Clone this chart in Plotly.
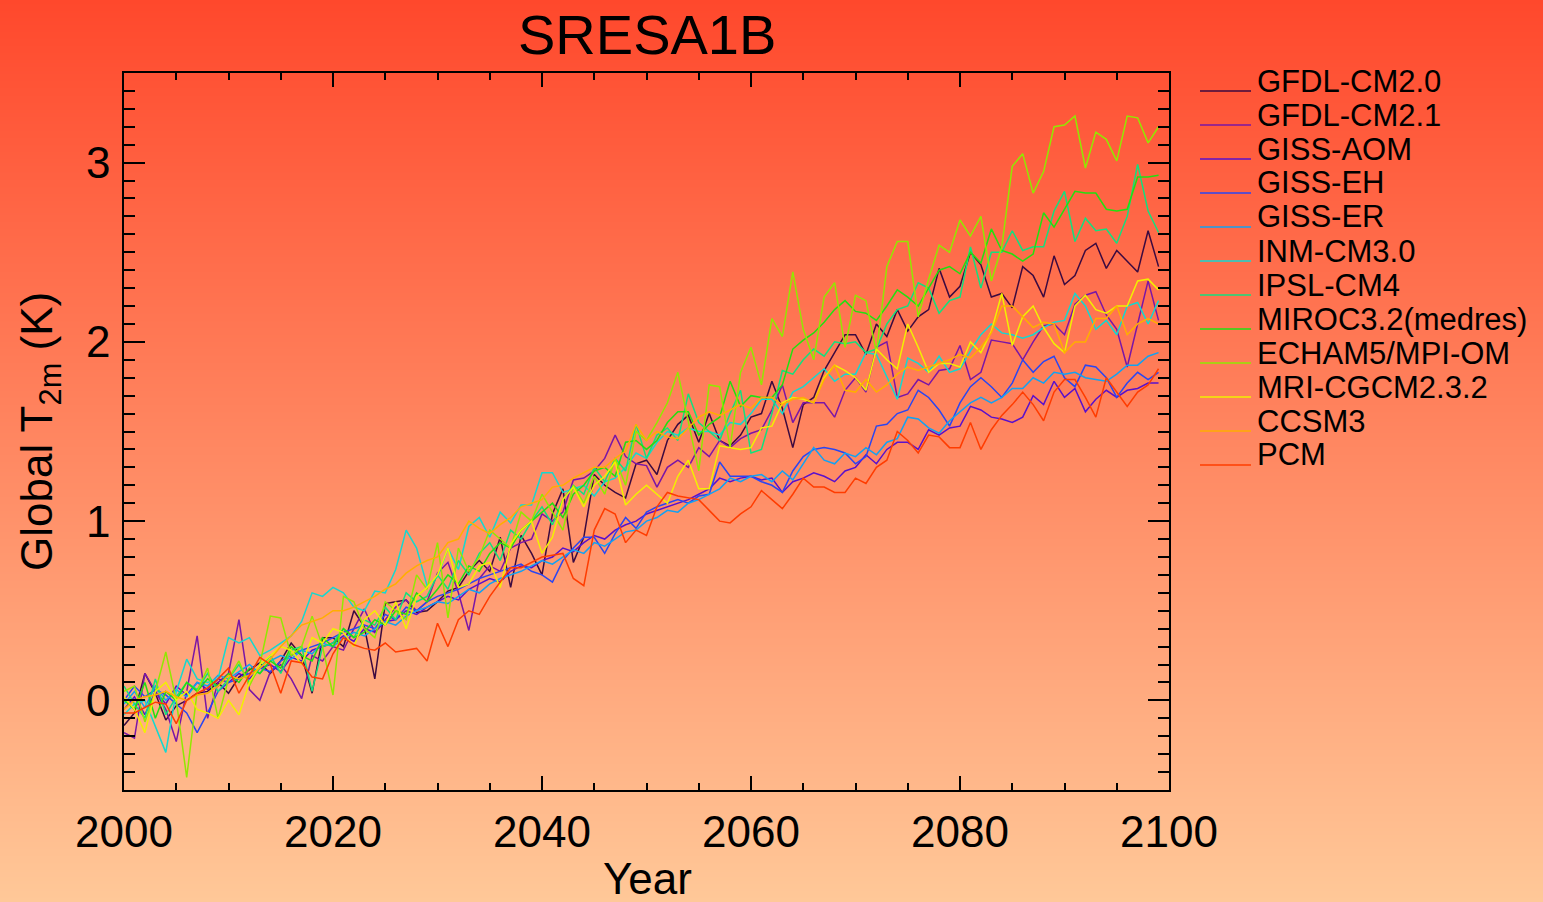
import base64
import struct
import zlib

import plotly.graph_objects as go

# ---------------------------------------------------------------------------
# Global mean 2 m temperature change (K), SRES A1B, annual values 2000-2099
# ---------------------------------------------------------------------------
years = list(range(2000, 2100))

models = [
    "GFDL-CM2.0", "GFDL-CM2.1", "GISS-AOM", "GISS-EH", "GISS-ER", "INM-CM3.0",
    "IPSL-CM4", "MIROC3.2(medres)", "ECHAM5/MPI-OM", "MRI-CGCM2.3.2", "CCSM3", "PCM",
]

gfdl_cm20 = [
    -0.14, -0.07, 0.15, 0.04, -0.11, -0.03, 0.00, 0.04, 0.05, 0.10,
    0.04, 0.13, 0.17, 0.21, 0.15, 0.22, 0.32, 0.25, 0.04, 0.35,
    0.35, 0.30, 0.50, 0.41, 0.12, 0.54, 0.55, 0.56, 0.49, 0.50,
    0.55, 0.61, 0.63, 0.72, 0.78, 0.72, 0.91, 0.63, 0.92, 0.82,
    0.70, 1.04, 1.18, 0.77, 0.91, 1.26, 1.20, 1.16, 1.13, 1.32,
    1.34, 1.26, 1.45, 1.54, 1.59, 1.44, 1.60, 1.45, 1.42, 1.48,
    1.58, 1.60, 1.78, 1.63, 1.41, 1.65, 1.69, 1.84, 1.94, 2.04,
    2.04, 1.93, 2.10, 2.03, 2.18, 2.06, 2.14, 2.18, 2.41, 2.25,
    2.31, 2.50, 2.43, 2.25, 2.27, 2.19, 2.42, 2.37, 2.25, 2.48,
    2.32, 2.37, 2.51, 2.55, 2.41, 2.51, 2.45, 2.39, 2.62, 2.42,
]
gfdl_cm21 = [
    -0.18, -0.21, 0.15, 0.05, -0.05, -0.23, 0.05, 0.36, -0.10, 0.10,
    0.15, 0.45, 0.06, 0.00, 0.16, 0.20, 0.12, 0.01, 0.25, 0.22,
    0.30, 0.28, 0.40, 0.51, 0.38, 0.45, 0.52, 0.56, 0.50, 0.55,
    0.71, 0.77, 0.60, 0.39, 0.68, 0.75, 0.72, 0.85, 0.88, 0.90,
    1.04, 1.00, 1.05, 1.23, 1.24, 1.28, 1.35, 1.48, 1.36, 1.32,
    1.31, 1.19, 1.30, 1.34, 1.30, 1.41, 1.36, 1.45, 1.41, 1.46,
    1.49, 1.51, 1.62, 1.76, 1.55, 1.66, 1.66, 1.66, 1.58, 1.73,
    1.80, 1.72, 1.97, 2.00, 1.69, 1.71, 1.79, 1.76, 1.84, 1.85,
    1.98, 1.79, 1.83, 2.01, 2.00, 1.99, 1.90, 2.00, 2.09, 2.10,
    2.04, 2.21, 2.26, 2.28, 2.15, 2.07, 1.86, 2.10, 2.34, 2.12,
]
giss_aom = [
    -0.05, 0.02, -0.08, 0.05, -0.02, 0.08, 0.03, 0.10, 0.06, 0.12,
    0.10, 0.15, 0.12, 0.18, 0.20, 0.16, 0.24, 0.22, 0.28, 0.30,
    0.32, 0.36, 0.33, 0.40, 0.38, 0.44, 0.45, 0.50, 0.48, 0.52,
    0.55, 0.58, 0.56, 0.62, 0.65, 0.68, 0.66, 0.72, 0.75, 0.74,
    0.78, 0.80, 0.85, 0.83, 0.88, 0.92, 0.90, 0.95, 0.98, 1.00,
    1.04, 1.06, 1.08, 1.10, 1.12, 1.15, 1.18, 1.24, 1.22, 1.24,
    1.25, 1.23, 1.24, 1.16, 1.22, 1.24, 1.27, 1.25, 1.22, 1.28,
    1.30, 1.37, 1.32, 1.40, 1.44, 1.44, 1.40, 1.51, 1.48, 1.52,
    1.53, 1.64, 1.62, 1.58, 1.57, 1.55, 1.58, 1.70, 1.65, 1.78,
    1.69, 1.74, 1.61, 1.68, 1.73, 1.69, 1.73, 1.74, 1.77, 1.77,
]
giss_eh = [
    0.00, 0.08, 0.02, 0.06, 0.03, -0.02, -0.07, -0.18, -0.07, 0.05,
    0.10, 0.12, 0.15, 0.18, 0.16, 0.22, 0.25, 0.28, 0.30, 0.32,
    0.35, 0.38, 0.40, 0.42, 0.40, 0.48, 0.45, 0.52, 0.50, 0.55,
    0.58, 0.60, 0.62, 0.65, 0.68, 0.70, 0.72, 0.74, 0.76, 0.72,
    0.70, 0.66, 0.78, 0.85, 0.91, 0.91, 0.82, 0.93, 1.02, 0.96,
    1.05, 1.08, 1.10, 1.12, 1.10, 1.14, 1.15, 1.33, 1.25, 1.25,
    1.25, 1.22, 1.20, 1.16, 1.28, 1.36, 1.40, 1.41, 1.40, 1.38,
    1.32, 1.36, 1.53, 1.54, 1.60, 1.62, 1.73, 1.69, 1.62, 1.53,
    1.66, 1.75, 1.80, 1.75, 1.69, 1.77, 1.90, 1.83, 1.89, 1.92,
    1.80, 1.75, 1.87, 1.86, 1.80, 1.69, 1.77, 1.83, 1.79, 1.83,
]
giss_er = [
    -0.02, 0.05, -0.04, 0.08, 0.00, 0.06, 0.02, 0.10, 0.08, 0.14,
    0.12, 0.16, 0.20, 0.15, 0.22, 0.25, 0.23, 0.28, 0.26, 0.32,
    0.30, 0.35, 0.38, 0.36, 0.40, 0.44, 0.42, 0.47, 0.50, 0.52,
    0.55, 0.54, 0.58, 0.62, 0.60, 0.65, 0.68, 0.70, 0.72, 0.75,
    0.78, 0.76, 0.80, 0.84, 0.82, 0.88, 0.86, 0.90, 0.94, 0.95,
    1.00, 1.02, 1.06, 1.05, 1.10, 1.12, 1.15, 1.18, 1.24, 1.22,
    1.25, 1.26, 1.22, 1.28, 1.23, 1.32, 1.41, 1.34, 1.32, 1.38,
    1.36, 1.41, 1.37, 1.44, 1.46, 1.58, 1.57, 1.52, 1.49, 1.56,
    1.61, 1.66, 1.69, 1.66, 1.69, 1.74, 1.74, 1.80, 1.77, 1.83,
    1.82, 1.83, 1.80, 1.79, 1.78, 1.82, 1.87, 1.87, 1.92, 1.94,
]
inm_cm30 = [
    -0.08, -0.02, 0.00, -0.15, -0.29, 0.05, 0.23, 0.12, 0.10, 0.12,
    0.35, 0.32, 0.35, 0.25, 0.28, 0.32, 0.36, 0.44, 0.60, 0.58,
    0.63, 0.60, 0.52, 0.50, 0.61, 0.60, 0.73, 0.95, 0.85, 0.64,
    0.69, 0.85, 0.73, 0.97, 1.02, 0.91, 1.05, 0.99, 1.09, 1.09,
    1.27, 1.27, 1.16, 1.18, 1.20, 1.14, 1.22, 1.24, 1.30, 1.38,
    1.35, 1.44, 1.50, 1.48, 1.52, 1.50, 1.50, 1.48, 1.55, 1.54,
    1.60, 1.68, 1.68, 1.60, 1.72, 1.75, 1.80, 1.85, 1.78, 1.82,
    1.82, 1.94, 1.93, 1.80, 1.68, 1.91, 1.88, 1.83, 1.92, 1.83,
    1.85, 1.95, 2.04, 2.10, 2.05, 2.04, 2.02, 2.04, 2.08, 2.11,
    2.12, 2.27, 2.20, 2.07, 2.12, 2.04, 2.20, 2.22, 2.10, 2.23,
]
ipsl_cm4 = [
    0.08, -0.02, -0.10, 0.12, -0.08, 0.02, 0.10, 0.06, 0.15, 0.05,
    0.12, 0.20, 0.10, 0.18, 0.25, 0.15, 0.28, 0.30, 0.05, 0.30,
    0.32, 0.40, 0.35, 0.45, 0.42, 0.52, 0.45, 0.60, 0.55, 0.58,
    0.70, 0.62, 0.78, 0.70, 0.82, 0.88, 0.78, 0.95, 0.90, 1.00,
    1.08, 0.98, 1.12, 1.20, 1.15, 1.30, 1.22, 1.35, 1.28, 1.54,
    1.35, 1.48, 1.52, 1.45, 1.71, 1.55, 1.50, 1.45, 1.60, 1.73,
    1.38, 1.40, 1.60, 1.84, 1.82, 1.90, 1.96, 1.92, 2.00, 1.99,
    2.00, 1.94, 1.96, 2.10, 2.18, 2.20, 2.33, 2.30, 2.16, 2.23,
    2.25, 2.53, 2.30, 2.50, 2.50, 2.62, 2.51, 2.53, 2.53, 2.73,
    2.84, 2.56, 2.69, 2.62, 2.63, 2.55, 2.70, 2.99, 2.73, 2.61,
]
miroc32 = [
    0.00, -0.05, 0.10, -0.10, 0.05, 0.00, 0.10, 0.05, 0.12, 0.08,
    0.15, 0.10, 0.18, 0.15, 0.22, 0.18, 0.30, 0.25, 0.22, 0.35,
    0.30, 0.40, 0.35, 0.38, 0.45, 0.42, 0.50, 0.48, 0.60, 0.55,
    0.62, 0.70, 0.65, 0.75, 0.72, 0.82, 0.88, 0.85, 0.95, 1.00,
    1.05, 1.10, 1.02, 1.15, 1.20, 1.28, 1.30, 1.25, 1.44, 1.45,
    1.40, 1.45, 1.55, 1.61, 1.61, 1.48, 1.54, 1.58, 1.78, 1.64,
    1.70, 1.69, 1.69, 1.76, 1.96, 2.01, 2.05, 2.11, 2.18, 2.23,
    2.17, 2.16, 2.12, 2.20, 2.29, 2.25, 2.20, 2.30, 2.40, 2.42,
    2.38, 2.50, 2.44, 2.63, 2.51, 2.49, 2.45, 2.49, 2.72, 2.64,
    2.74, 2.84, 2.83, 2.83, 2.74, 2.73, 2.74, 2.92, 2.92, 2.93,
]
echam5 = [
    0.05, 0.08, -0.12, 0.05, 0.27, 0.00, -0.43, 0.05, 0.18, -0.10,
    0.12, 0.22, 0.08, 0.20, 0.47, 0.46, 0.25, 0.30, 0.47, 0.30,
    0.03, 0.58, 0.55, 0.40, 0.35, 0.55, 0.50, 0.45, 0.70, 0.62,
    0.88, 0.46, 0.85, 0.72, 0.80, 0.95, 0.90, 0.85, 1.05, 1.00,
    1.15, 1.05, 0.95, 1.20, 1.10, 1.25, 1.15, 1.35, 1.20, 1.50,
    1.45, 1.55, 1.66, 1.83, 1.55, 1.28, 1.76, 1.75, 1.41, 1.83,
    1.97, 1.76, 2.13, 2.03, 2.39, 2.07, 1.90, 2.25, 2.33, 1.97,
    2.26, 2.23, 1.94, 2.42, 2.56, 2.56, 2.14, 2.35, 2.54, 2.50,
    2.68, 2.59, 2.70, 2.34, 2.53, 2.98, 3.05, 2.83, 2.95, 3.20,
    3.21, 3.26, 2.97, 3.17, 3.13, 3.01, 3.26, 3.25, 3.11, 3.20,
]
mri_cgcm = [
    0.02, -0.05, -0.18, 0.05, 0.10, 0.00, 0.05, -0.05, -0.07, -0.10,
    0.00, -0.08, 0.10, 0.20, 0.25, 0.30, 0.28, 0.20, 0.35, 0.32,
    0.40, 0.38, 0.30, 0.45, 0.50, 0.42, 0.55, 0.40, 0.58, 0.63,
    0.70, 0.85, 0.63, 0.65, 0.75, 0.77, 0.63, 0.87, 0.95, 1.00,
    0.82, 0.91, 1.12, 1.19, 1.08, 1.20, 1.25, 1.33, 1.09, 1.15,
    1.20, 1.15, 1.10, 1.25, 1.34, 1.18, 1.18, 1.42, 1.41, 1.40,
    1.41, 1.52, 1.53, 1.66, 1.69, 1.68, 1.66, 1.80, 1.87, 1.84,
    1.80, 1.73, 1.96, 1.90, 1.85, 2.10, 1.97, 1.83, 1.88, 1.88,
    1.86, 2.00, 1.94, 2.06, 2.27, 1.98, 2.14, 2.20, 2.08, 1.99,
    1.94, 2.20, 2.26, 2.18, 2.16, 2.20, 2.20, 2.34, 2.35, 2.29,
]
ccsm3 = [
    -0.05, 0.00, 0.02, 0.03, 0.05, 0.02, 0.00, 0.03, 0.04, 0.08,
    0.14, 0.12, 0.14, 0.18, 0.23, 0.30, 0.36, 0.42, 0.44, 0.46,
    0.50, 0.50, 0.52, 0.55, 0.58, 0.62, 0.65, 0.71, 0.75, 0.78,
    0.80, 0.88, 0.90, 1.00, 0.96, 0.93, 0.98, 1.02, 1.08, 1.10,
    1.12, 1.19, 1.20, 1.24, 1.27, 1.30, 1.30, 1.35, 1.39, 1.54,
    1.45, 1.50, 1.47, 1.46, 1.52, 1.58, 1.61, 1.59, 1.62, 1.65,
    1.63, 1.69, 1.69, 1.65, 1.68, 1.69, 1.66, 1.79, 1.87, 1.73,
    1.72, 1.79, 1.72, 1.76, 1.82, 1.86, 1.84, 1.86, 1.88, 1.90,
    1.93, 1.91, 1.97, 2.05, 2.20, 2.20, 2.14, 2.08, 2.11, 2.10,
    1.94, 2.00, 2.00, 2.13, 2.13, 2.20, 2.04, 2.10, 2.13, 2.10,
]
pcm = [
    -0.07, -0.07, -0.04, -0.01, -0.02, -0.13, 0.00, 0.04, 0.07, 0.12,
    0.18, 0.04, 0.14, 0.24, 0.20, 0.04, 0.22, 0.21, 0.13, 0.12,
    0.26, 0.35, 0.31, 0.29, 0.28, 0.32, 0.27, 0.28, 0.29, 0.22,
    0.43, 0.30, 0.45, 0.50, 0.48, 0.58, 0.66, 0.74, 0.74, 0.77,
    0.80, 0.81, 0.82, 0.68, 0.64, 0.95, 1.07, 1.04, 0.88, 0.95,
    0.92, 1.08, 1.16, 1.14, 1.13, 1.12, 1.06, 1.00, 0.99, 1.04,
    1.08, 1.17, 1.12, 1.07, 1.15, 1.24, 1.19, 1.19, 1.16, 1.16,
    1.24, 1.21, 1.30, 1.34, 1.50, 1.45, 1.38, 1.48, 1.47, 1.41,
    1.41, 1.55, 1.40, 1.51, 1.59, 1.65, 1.72, 1.65, 1.56, 1.72,
    1.79, 1.79, 1.69, 1.58, 1.80, 1.72, 1.64, 1.72, 1.76, 1.85,
]

series = [gfdl_cm20, gfdl_cm21, giss_aom, giss_eh, giss_er, inm_cm30,
          ipsl_cm4, miroc32, echam5, mri_cgcm, ccsm3, pcm]

# rainbow colour table, one colour per model
colors = [
    "#3c0a40", "#7a16a6", "#5a10cc", "#2a46f2", "#12a2f2", "#14d8d0",
    "#12e07e", "#22e010", "#92e800", "#f2f000", "#ffae00", "#ff3c00",
]

for s in series:
    assert len(s) == len(years)

# ---------------------------------------------------------------------------
# page geometry (pixels)
# ---------------------------------------------------------------------------
W, H = 1543, 902
L, R, T, B = 124, 1169, 73, 790          # plot-area edges
PW, PH = R - L, B - T
FONT = "Liberation Sans, Arial, Helvetica, sans-serif"


def px(x):
    return (x - L) / PW


def py(y):
    return (B - y) / PH


def gradient_png(height, top, bottom):
    """1-pixel-wide vertical colour ramp as a PNG data URI."""
    raw = bytearray()
    for i in range(height):
        t = i / (height - 1)
        raw += b"\x00" + bytes(round(top[k] + (bottom[k] - top[k]) * t) for k in range(3))

    def chunk(tag, data):
        body = tag + data
        return struct.pack(">I", len(data)) + body + struct.pack(">I", zlib.crc32(body) & 0xFFFFFFFF)

    ihdr = struct.pack(">IIBBBBB", 1, height, 8, 2, 0, 0, 0)
    png = (b"\x89PNG\r\n\x1a\n" + chunk(b"IHDR", ihdr)
           + chunk(b"IDAT", zlib.compress(bytes(raw))) + chunk(b"IEND", b""))
    return "data:image/png;base64," + base64.b64encode(png).decode()


fig = go.Figure()

for name, vals, col in zip(models, series, colors):
    fig.add_trace(go.Scatter(
        x=years, y=vals, name=name, mode="lines",
        line=dict(color=col, width=1.5), showlegend=False,
    ))

# hand-placed legend: short line followed by the model name
shapes = []
annotations = []
for i, (name, col) in enumerate(zip(models, colors)):
    yl = 91 + 34 * i
    shapes.append(dict(type="line", xref="paper", yref="paper",
                       x0=px(1200), x1=px(1251), y0=py(yl), y1=py(yl),
                       line=dict(color=col, width=1.5)))
    annotations.append(dict(xref="paper", yref="paper", x=px(1255), y=py(yl - 10),
                            text=name, showarrow=False, xanchor="left", yanchor="middle",
                            font=dict(family=FONT, size=31, color="black")))

annotations += [
    dict(xref="paper", yref="paper", x=px(647), y=py(35), text="SRESA1B",
         showarrow=False, xanchor="center", yanchor="middle",
         font=dict(family=FONT, size=56, color="black")),
    dict(xref="paper", yref="paper", x=px(647), y=py(878), text="Year",
         showarrow=False, xanchor="center", yanchor="middle",
         font=dict(family=FONT, size=44, color="black")),
    dict(xref="paper", yref="paper", x=px(40), y=py(432),
         text="Global T<sub>2m</sub> (K)", textangle=-90,
         showarrow=False, xanchor="center", yanchor="middle",
         font=dict(family=FONT, size=44, color="black")),
]

axis_common = dict(
    showline=True, linecolor="black", linewidth=1.5, mirror="allticks",
    ticks="inside", tickcolor="black", tickwidth=1.5,
    showgrid=False, zeroline=False,
    tickfont=dict(family=FONT, size=44, color="black"),
)

fig.update_layout(
    width=W, height=H, autosize=False,
    margin=dict(l=L, r=W - R, t=T, b=H - B, pad=0),
    paper_bgcolor="rgb(255,200,152)",
    plot_bgcolor="rgba(0,0,0,0)",
    xaxis=dict(range=[2000, 2100], tick0=2000, dtick=20, ticklen=14,
               ticklabelstandoff=2,
               minor=dict(dtick=5, ticklen=7, ticks="inside", tickcolor="black",
                          tickwidth=1.5, showgrid=False),
               **axis_common),
    yaxis=dict(range=[-0.5, 3.5], tick0=0, dtick=1, ticklen=21,
               ticklabelstandoff=3,
               minor=dict(dtick=0.1, ticklen=11, ticks="inside", tickcolor="black",
                          tickwidth=1.5, showgrid=False),
               **axis_common),
    images=[dict(source=gradient_png(H, (255, 72, 44), (255, 200, 152)),
                 xref="paper", yref="paper", x=px(0), y=py(0),
                 sizex=W / PW, sizey=H / PH, sizing="stretch",
                 xanchor="left", yanchor="top", layer="below")],
    shapes=shapes,
    annotations=annotations,
)

fig.write_html("out.html")
